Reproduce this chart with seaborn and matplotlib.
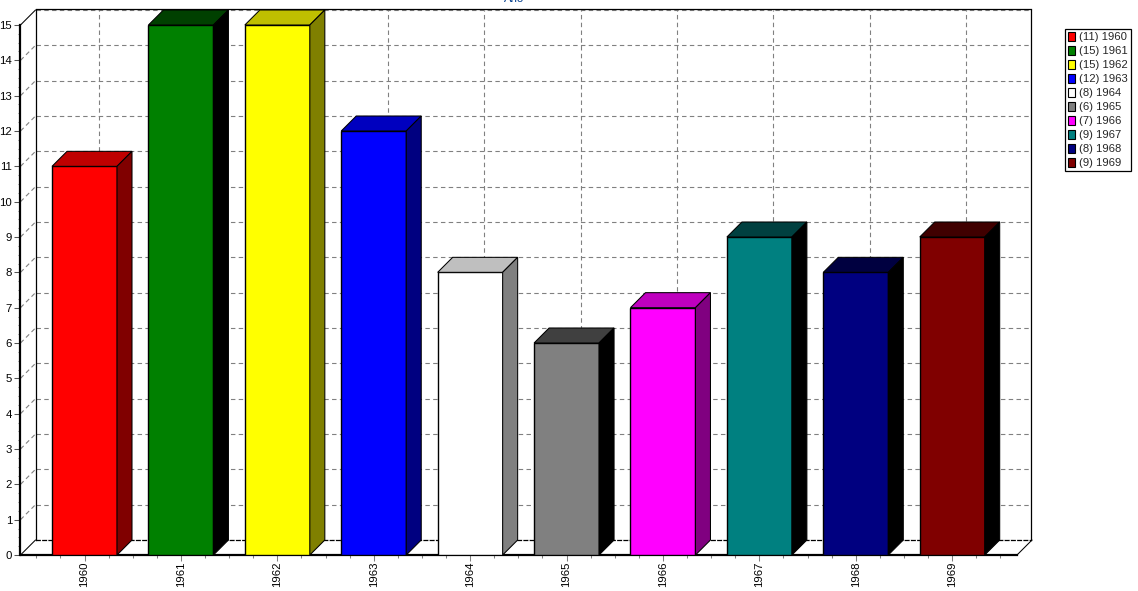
import matplotlib
matplotlib.use("Agg")
import matplotlib.pyplot as plt
import seaborn as sns
import pandas as pd
from matplotlib.colors import to_rgb
from matplotlib.patches import Patch, Polygon
from matplotlib.ticker import MultipleLocator, FixedLocator

years = ["1960", "1961", "1962", "1963", "1964", "1965", "1966", "1967", "1968", "1969"]
counts = [11, 15, 15, 12, 8, 6, 7, 9, 8, 9]
colors = ["#ff0000", "#008000", "#ffff00", "#0000ff", "#ffffff",
          "#808080", "#ff00ff", "#008080", "#000080", "#800000"]
axis_title = "Ano"

W, H = 1138, 591
FONT = 8.2
DEPTH = 15
LEFT, RIGHT, TOP, BOTTOM = 20.5, 1017, 25, 555
GRID = dict(color="#808080", linestyle=(0, (4, 3)), linewidth=0.8)


def shade(color, amount):
    return tuple(max(c - amount, 0) for c in to_rgb(color))


def box(left, top, right, bottom):
    return [left / W, 1 - bottom / H, (right - left) / W, (bottom - top) / H]


sns.set_theme(style="white")
plt.rcParams["font.family"] = ["Liberation Sans", "DejaVu Sans"]

df = pd.DataFrame({"ano": years, "n": counts})
fig = plt.figure(figsize=(W / 100, H / 100), dpi=100, facecolor="white")

# parede do fundo, mesma escala deslocada em 15 px
back = fig.add_axes(box(LEFT + DEPTH, TOP - DEPTH, RIGHT + DEPTH - 1.5, BOTTOM - DEPTH), zorder=1)
ax = fig.add_axes(box(LEFT, TOP, RIGHT, BOTTOM), zorder=2)
ax.patch.set_alpha(0)

sns.barplot(data=df, x="ano", y="n", hue="ano", palette=colors, dodge=False, legend=False,
            width=0.674, edgecolor="black", linewidth=1, saturation=1, ax=ax, zorder=3)

xlim = (-0.664, 9.672)
ylim = (0, 15)
ax.set_xlim(*xlim)
ax.set_ylim(*ylim)
ax.set_xlabel("")
ax.set_ylabel("")
dx = DEPTH * (xlim[1] - xlim[0]) / (RIGHT - LEFT)
dy = DEPTH * (ylim[1] - ylim[0]) / (BOTTOM - TOP)

# faces de cima e do lado das barras
for i, (v, c) in enumerate(zip(counts, colors)):
    x0, x1 = i - 0.337, i + 0.337
    ax.add_patch(Polygon([(x0, v), (x0 + dx, v + dy), (x1 + dx, v + dy), (x1, v)],
                         facecolor=shade(c, 0.25), edgecolor="black", linewidth=0.75,
                         clip_on=False, zorder=3))
    ax.add_patch(Polygon([(x1, 0), (x1 + dx, dy), (x1 + dx, v + dy), (x1, v)],
                         facecolor=shade(c, 0.5), edgecolor="black", linewidth=0.75,
                         clip_on=False, zorder=3))

# fundo
back.set_xlim(*xlim)
back.set_ylim(*ylim)
back.set_xticks(range(len(years)))
back.set_yticks(range(16))
back.tick_params(left=False, bottom=False, labelleft=False, labelbottom=False)
back.grid(True, **GRID)
back.set_axisbelow(True)
for name, spine in back.spines.items():
    spine.set_color("black")
    spine.set_linewidth(0.9)
back.spines["top"].set_position(("outward", 0.8))
back.spines["bottom"].set_linestyle((0, (3, 2)))

# diagonais da parede esquerda e do chao
for v in range(1, 15):
    ax.plot([xlim[0], xlim[0] + dx], [v, v + dy], clip_on=False, zorder=1, **GRID)
for x, v in [(xlim[0], 0), (xlim[0], 15), (xlim[1], 0)]:
    ax.plot([x, x + dx], [v, v + dy], color="black", linewidth=0.75, clip_on=False, zorder=1)

# eixos da frente
for name in ["top", "right"]:
    ax.spines[name].set_visible(False)
ax.spines["left"].set_linewidth(1.6)
ax.spines["bottom"].set_linewidth(1.6)
ax.spines["left"].set_color("black")
ax.spines["bottom"].set_color("black")
ax.set_yticks(range(16))
ax.yaxis.set_minor_locator(MultipleLocator(0.25))
ax.xaxis.set_minor_locator(FixedLocator([i / 4 for i in range(-2, 39) if i % 4]))
ax.tick_params(axis="y", which="major", left=True, length=4, width=0.75, color="#555555",
               labelsize=FONT, labelcolor="black", pad=2)
ax.tick_params(axis="y", which="minor", left=True, length=1.5, width=0.75, color="#808080")
ax.tick_params(axis="x", which="major", bottom=True, length=4, width=0.75, color="#808080",
               labelsize=FONT, labelcolor="black", labelrotation=90, pad=0.5)
ax.tick_params(axis="x", which="minor", bottom=True, length=2, width=0.75, color="#808080")

fig.text(514 / W, 1 + 1 / H, axis_title, color="#003c8c", fontsize=FONT, ha="center", va="center")

handles = [Patch(facecolor=c, edgecolor="black", linewidth=0.8, label=f"({v}) {y}")
           for c, v, y in zip(colors, counts, years)]
leg = fig.legend(handles=handles, loc="upper left", bbox_to_anchor=(1065 / W, 1 - 29 / H),
                 fontsize=8.1, frameon=True, fancybox=False, framealpha=1, edgecolor="black",
                 borderpad=0.26, labelspacing=0.32, handlelength=0.65, handleheight=0.85,
                 handletextpad=0.36, borderaxespad=0)
leg.get_frame().set_linewidth(0.9)

fig.savefig("out.png", dpi=100)
